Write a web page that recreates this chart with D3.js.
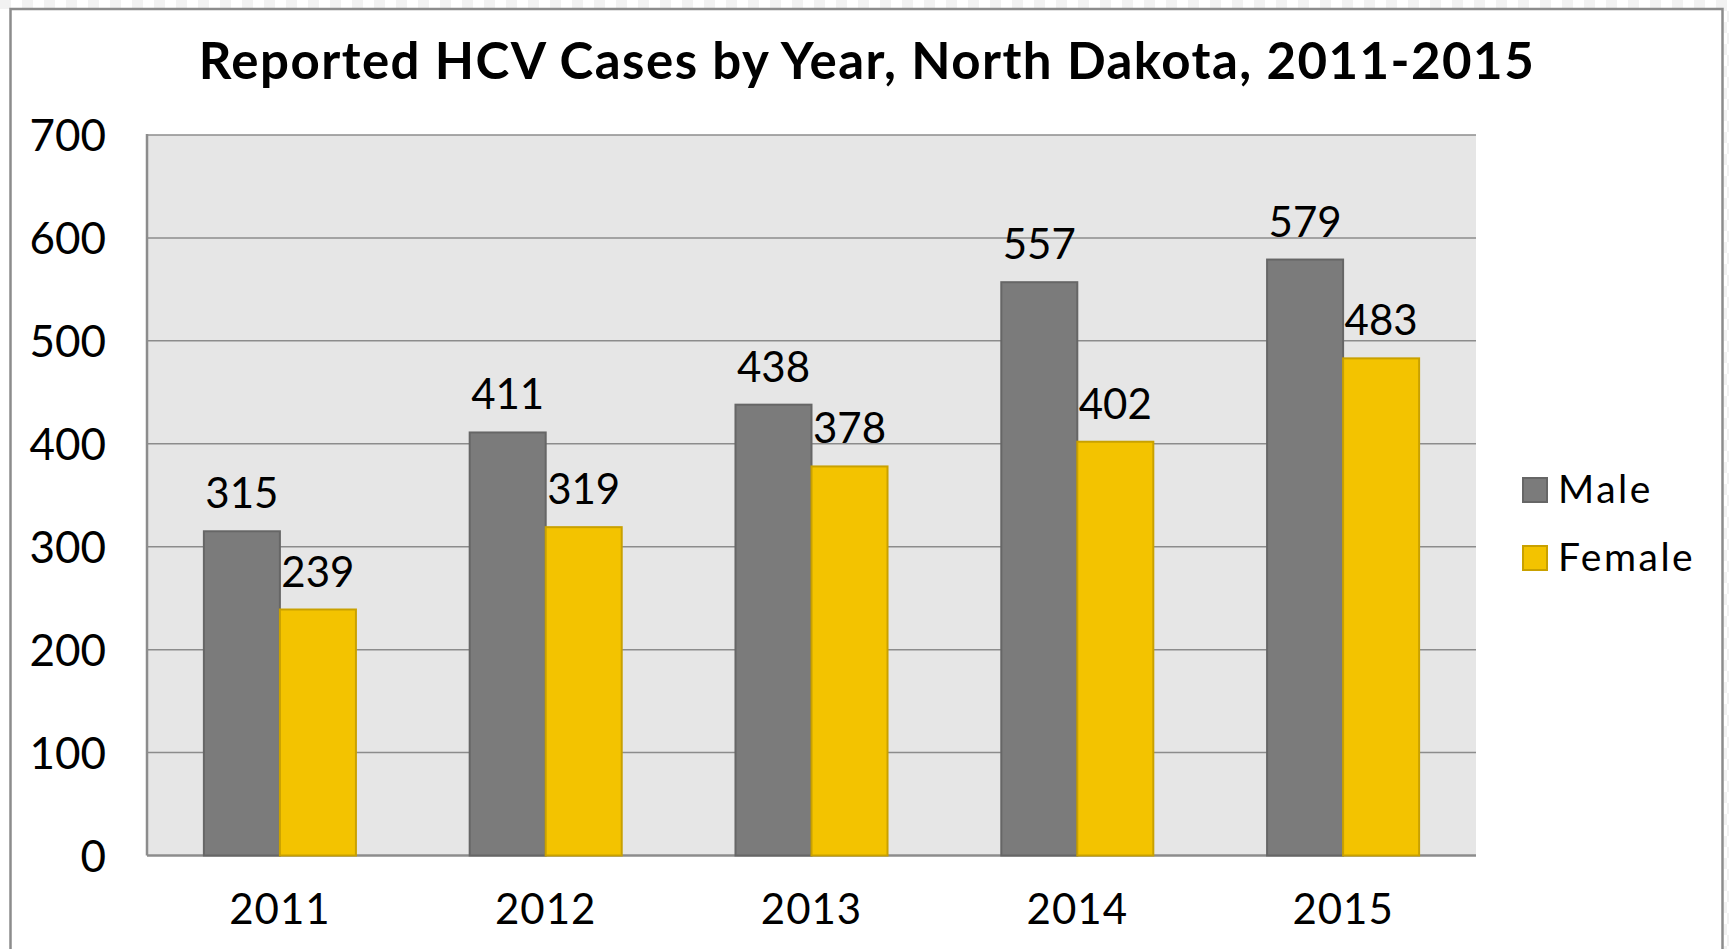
<!DOCTYPE html>
<html>
<head>
<meta charset="utf-8">
<script src="https://cdn.jsdelivr.net/npm/d3@7"></script>
<style>
  body { margin:0; background:#fff; }
  svg { display:block; font-family: Lato, "DejaVu Sans", sans-serif; }
</style>
</head>
<body>
<svg id="chart" width="1729" height="949"></svg>
<script>
// data
var years = ["2011", "2012", "2013", "2014", "2015"];
var male = [315, 411, 438, 557, 579];
var female = [239, 319, 378, 402, 483];
var seriesNames = ["Male", "Female"];
var yTicks = [0, 100, 200, 300, 400, 500, 600, 700];
var titleText = "Reported HCV Cases by Year, North Dakota, 2011-2015";

var colors = {Male: "#7b7b7b", Female: "#f3c300"};
var strokes = {Male: "#666666", Female: "#c9a100"};

var svg = d3.select("#chart");

// transparent-background checker strip at top and right edge
var pat = svg.append("defs").append("pattern")
    .attr("id", "checker").attr("width", 22).attr("height", 22)
    .attr("patternUnits", "userSpaceOnUse");
pat.append("rect").attr("width", 22).attr("height", 22).attr("fill", "#fff");
pat.append("rect").attr("width", 11).attr("height", 11).attr("fill", "#f2f2f2");
pat.append("rect").attr("x", 11).attr("y", 11).attr("width", 11).attr("height", 11).attr("fill", "#f2f2f2");
svg.append("rect").attr("width", 1729).attr("height", 9).attr("fill", "url(#checker)");
svg.append("rect").attr("x", 1724).attr("width", 5).attr("height", 949).attr("fill", "url(#checker)");

// chart frame
svg.append("rect")
    .attr("x", 10.5).attr("y", 9)
    .attr("width", 1712).attr("height", 960)
    .attr("fill", "#fff")
    .attr("stroke", "#8c8c8c")
    .attr("stroke-width", 2.5);

var plot = {left: 147, right: 1476, top: 135, bottom: 855.5};

var x0 = d3.scaleBand()
    .domain(years)
    .range([plot.left, plot.right])
    .paddingInner(0.428)
    .paddingOuter(0.214);

var x1 = d3.scaleBand()
    .domain(seriesNames)
    .range([0, x0.bandwidth()]);

var y = d3.scaleLinear()
    .domain([0, 700])
    .range([plot.bottom, plot.top]);

// plot background
svg.append("rect")
    .attr("x", plot.left).attr("y", plot.top)
    .attr("width", plot.right - plot.left)
    .attr("height", plot.bottom - plot.top)
    .attr("fill", "#e6e6e6");

// gridlines
svg.append("g")
    .selectAll("line")
    .data(yTicks.slice(1))
    .enter().append("line")
    .attr("x1", plot.left).attr("x2", plot.right)
    .attr("y1", d => y(d)).attr("y2", d => y(d))
    .attr("stroke", "#8c8c8c")
    .attr("stroke-width", 1.5);

// left and bottom axis lines
svg.append("line")
    .attr("x1", plot.left).attr("x2", plot.left)
    .attr("y1", plot.top - 1).attr("y2", plot.bottom)
    .attr("stroke", "#8c8c8c").attr("stroke-width", 2.5);
svg.append("line")
    .attr("x1", plot.left).attr("x2", plot.right)
    .attr("y1", plot.bottom).attr("y2", plot.bottom)
    .attr("stroke", "#8c8c8c").attr("stroke-width", 2.5);

// y axis labels
var yAxis = svg.append("g")
    .attr("transform", `translate(${plot.left},0)`)
    .call(d3.axisLeft(y).tickValues(yTicks).tickSize(0).tickPadding(41));
yAxis.select(".domain").remove();
yAxis.selectAll("text")
    .attr("font-family", "Lato, sans-serif")
    .attr("font-size", 44)
    .attr("fill", "#000")
    .attr("dy", "0.36em");

// x axis labels
var xAxis = svg.append("g")
    .attr("transform", `translate(0,${plot.bottom})`)
    .call(d3.axisBottom(x0).tickSize(0).tickPadding(39));
xAxis.select(".domain").remove();
xAxis.selectAll("text")
    .attr("font-family", "Lato, sans-serif")
    .attr("font-size", 42)
    .attr("letter-spacing", 1)
    .attr("fill", "#000");

// bars
var rows = years.map((yr, i) => ({year: yr, Male: male[i], Female: female[i]}));

var groups = svg.append("g")
    .selectAll("g")
    .data(rows)
    .enter().append("g")
    .attr("transform", d => `translate(${x0(d.year)},0)`);

groups.selectAll("rect")
    .data(d => seriesNames.map(s => ({key: s, value: d[s]})))
    .enter().append("rect")
    .attr("x", d => x1(d.key))
    .attr("y", d => y(d.value))
    .attr("width", x1.bandwidth())
    .attr("height", d => y(0) - y(d.value))
    .attr("fill", d => colors[d.key])
    .attr("stroke", d => strokes[d.key])
    .attr("stroke-width", 2);

groups.selectAll("text.val")
    .data(d => seriesNames.map(s => ({key: s, value: d[s]})))
    .enter().append("text")
    .attr("class", "val")
    .attr("x", d => x1(d.key) + x1.bandwidth() / 2)
    .attr("y", d => y(d.value) - 23)
    .attr("text-anchor", "middle")
    .attr("font-size", 42)
    .attr("fill", "#000")
    .text(d => d.value);

// title
svg.append("text")
    .attr("x", 867).attr("y", 79)
    .attr("text-anchor", "middle")
    .attr("font-size", 51)
    .attr("font-weight", "bold")
    .attr("letter-spacing", 1.45)
    .attr("fill", "#000")
    .text(titleText);

// legend
var legend = svg.append("g")
    .selectAll("g")
    .data(seriesNames)
    .enter().append("g")
    .attr("transform", (d, i) => `translate(1523,${478 + i * 68})`);

legend.append("rect")
    .attr("width", 24).attr("height", 24)
    .attr("fill", d => colors[d])
    .attr("stroke", d => strokes[d])
    .attr("stroke-width", 2);

legend.append("text")
    .attr("x", 35).attr("y", 25)
    .attr("font-size", 39)
    .attr("letter-spacing", 2.5)
    .attr("fill", "#000")
    .text(d => d);
</script>
</body>
</html>
